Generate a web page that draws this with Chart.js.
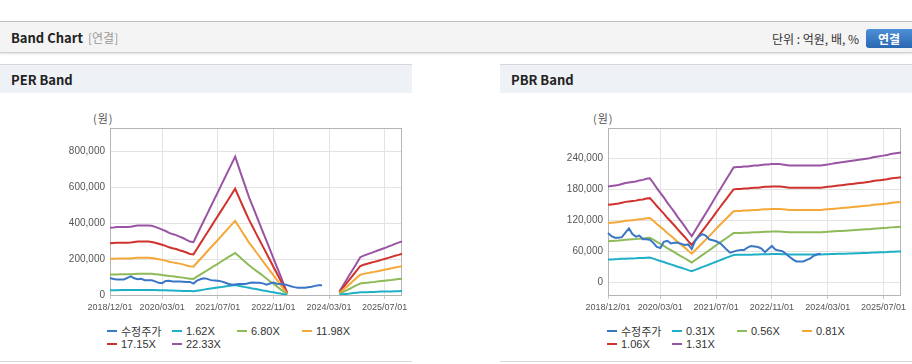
<!DOCTYPE html>
<html>
<head>
<meta charset="utf-8">
<script src="https://cdn.jsdelivr.net/npm/chart.js@4.4.1/dist/chart.umd.min.js"></script>
<style>
  html, body { margin:0; padding:0; background:#fff; }
  body { width:912px; height:364px; position:relative; overflow:hidden; font-family:'Liberation Sans','Noto Sans CJK KR',Arial,sans-serif; }
  .abs { position:absolute; }
  .topline { left:0; top:21px; width:912px; height:1px; background:#c2c2c2; }
  .hdr { left:0; top:22px; width:912px; height:30px; background:#f4f4f4; border-bottom:1px solid #cfcfcf; box-shadow:0 1px 2px rgba(0,0,0,0.12); }
  .hdr-title { left:11px; top:29px; font:bold 13px 'Noto Sans CJK KR',sans-serif; color:#222; line-height:17px; }
  .hdr-sub { left:88px; top:29px; font:12px 'Noto Sans CJK KR',sans-serif; color:#999; line-height:17px; }
  .unit { right:53px; top:30px; font:12px 'Noto Sans CJK KR',sans-serif; color:#333; line-height:17px; }
  .btn { left:866px; top:29px; width:46px; height:19px; border-radius:3px 0 0 3px; background:linear-gradient(#4d8fd6,#2a68b1); color:#fff; font:bold 12px 'Noto Sans CJK KR',sans-serif; text-align:center; line-height:19px; }
  .phdr { top:64px; width:412px; height:28px; background:#eef1f6; border-top:1px solid #d6d6d6; }
  .ptitle { top:71px; font:bold 13px 'Noto Sans CJK KR',sans-serif; color:#222; line-height:17px; }
  .pbottom { top:361px; width:412px; height:1px; background:#d8d8d8; }
  .unitlbl { top:110px; font:11px 'Noto Sans CJK KR',sans-serif; color:#555; letter-spacing:1px; }
  .legend { top:324px; display:grid; grid-template-columns:repeat(4,65px); grid-auto-rows:13px; }
  .li { display:flex; align-items:center; font:11px 'Liberation Sans','Noto Sans CJK KR',sans-serif; color:#333; white-space:nowrap; }
  .mk { width:10px; height:2px; margin-right:4px; }
  canvas { position:absolute; top:95px; }
</style>
</head>
<body>
<div class="abs topline"></div>
<div class="abs hdr"></div>
<div class="abs hdr-title">Band Chart</div>
<div class="abs hdr-sub">[연결]</div>
<div class="abs unit">단위 : 억원, 배, %</div>
<div class="abs btn">연결</div>

<div class="abs phdr" style="left:0"></div>
<div class="abs ptitle" style="left:11px">PER Band</div>
<div class="abs phdr" style="left:500px"></div>
<div class="abs ptitle" style="left:511px">PBR Band</div>
<div class="abs pbottom" style="left:0"></div>
<div class="abs pbottom" style="left:500px"></div>

<div class="abs unitlbl" style="left:93px">(원)</div>
<div class="abs unitlbl" style="left:593px">(원)</div>

<canvas id="per" width="412" height="225" style="left:0"></canvas>
<canvas id="pbr" width="412" height="225" style="left:500px"></canvas>
<div class="abs legend" id="perLegend" style="left:107px"></div>
<div class="abs legend" id="pbrLegend" style="left:607px"></div>

<script>
// ---------- categories (monthly) ----------
const DATES = [
'2018/12/01',
'2019/01/01','2019/02/01','2019/03/01','2019/04/01','2019/05/01','2019/06/01','2019/07/01','2019/08/01','2019/09/01','2019/10/01','2019/11/01','2019/12/01',
'2020/01/01','2020/02/01','2020/03/01','2020/04/01','2020/05/01','2020/06/01','2020/07/01','2020/08/01','2020/09/01','2020/10/01','2020/11/01','2020/12/01',
'2021/01/01','2021/02/01','2021/03/01','2021/04/01','2021/05/01','2021/06/01','2021/07/01','2021/08/01','2021/09/01','2021/10/01','2021/11/01','2021/12/01',
'2022/01/01','2022/02/01','2022/03/01','2022/04/01','2022/05/01','2022/06/01','2022/07/01','2022/08/01','2022/09/01','2022/10/01','2022/11/01','2022/12/01',
'2023/01/01','2023/02/01','2023/03/01','2023/04/01','2023/05/01','2023/06/01','2023/07/01','2023/08/01','2023/09/01','2023/10/01','2023/11/01','2023/12/01',
'2024/01/01','2024/02/01','2024/03/01','2024/04/01','2024/05/01','2024/06/01','2024/07/01','2024/08/01','2024/09/01','2024/10/01','2024/11/01','2024/12/01',
'2025/01/01','2025/02/01','2025/03/01','2025/04/01','2025/05/01','2025/06/01','2025/07/01','2025/08/01','2025/09/01','2025/10/01','2025/11/01','2025/12/01'
];
const X_TICKS = ['2018/12/01','2020/03/01','2021/07/01','2022/11/01','2024/03/01','2025/07/01'];
const PER_Y_TICKS = [0,200000,400000,600000,800000];
const PBR_Y_TICKS = [0,60000,120000,180000,240000];

// ---------- adjusted price (수정주가) ----------
const PRICE = [
95000,89000,86000,86000,87000,96000,104000,93000,88000,90000,83000,83000,
82000,76000,68000,66000,78000,80000,75000,76000,76000,74000,72000,73000,
64000,80000,88000,93000,90000,83000,81000,79000,76000,70000,63000,57000,
59000,61000,62000,62000,67000,70000,69000,68000,65000,58000,64000,70000,
63000,61000,60000,55000,49000,44000,40000,40000,40000,43000,46000,51000,54000,55000,
null,null,null,null,null,null,null,null,null,null,null,null,null,null,null,null,null,null,null,null,null,null,null
];

// ---------- PER band series ----------
const PER_162 = [
27000,27000,27000,28000,28000,28000,28000,28000,28000,28000,28000,28000,
28000,28000,27000,26000,26000,25000,25000,24000,24000,23000,22000,22000,
21000,24000,27000,30000,33000,36000,39000,42000,44000,47000,50000,53000,
56000,52000,48000,44000,40000,36000,33000,29000,25000,22000,18000,15000,
11000,8000,4000,1000,
null,null,null,null,null,null,null,null,null,null,null,null,null,null,
1000,4000,6000,8000,11000,13000,15000,16000,16000,17000,17000,18000,19000,19000,20000,20000,21000,21000,22000
];
const PER_680 = [
114000,115000,115000,116000,116000,116000,116000,117000,118000,118000,118000,118000,
118000,116000,114000,111000,109000,106000,104000,102000,99000,97000,94000,91000,
90000,102000,114000,126000,138000,150000,163000,174000,187000,199000,211000,223000,
235000,218000,200000,183000,166000,151000,136000,122000,107000,92000,77000,63000,
48000,33000,18000,4000,
null,null,null,null,null,null,null,null,null,null,null,null,null,null,
6000,16000,26000,35000,45000,55000,64000,67000,69000,71000,73000,76000,78000,80000,82000,84000,87000,89000,91000
];
const PER_1198 = [
202000,202000,203000,204000,204000,204000,204000,207000,208000,208000,208000,208000,
207000,204000,200000,196000,192000,186000,182000,179000,175000,171000,165000,160000,
158000,180000,201000,222000,244000,265000,286000,307000,329000,350000,372000,393000,
414000,384000,353000,323000,292000,267000,240000,215000,188000,163000,136000,111000,
84000,58000,32000,6000,
null,null,null,null,null,null,null,null,null,null,null,null,null,null,
11000,28000,45000,62000,79000,96000,113000,118000,122000,126000,129000,133000,137000,141000,145000,149000,153000,157000,160000
];
const PER_1715 = [
289000,290000,291000,292000,292000,292000,293000,296000,298000,298000,298000,298000,
296000,292000,286000,280000,274000,266000,261000,257000,250000,244000,237000,229000,
227000,257000,288000,318000,349000,379000,410000,440000,471000,501000,532000,562000,
593000,549000,505000,462000,419000,382000,344000,307000,270000,233000,195000,158000,
121000,84000,46000,9000,
null,null,null,null,null,null,null,null,null,null,null,null,null,null,
15000,40000,65000,89000,113000,137000,162000,169000,174000,180000,185000,190000,196000,201000,207000,213000,219000,224000,230000
];
const PER_2233 = [
376000,377000,379000,380000,380000,380000,381000,385000,388000,388000,388000,388000,
386000,380000,373000,365000,357000,347000,340000,334000,326000,318000,308000,298000,
295000,335000,375000,414000,454000,494000,534000,573000,613000,653000,693000,732000,
772000,715000,658000,602000,545000,497000,448000,400000,351000,303000,254000,206000,
157000,109000,60000,12000,
null,null,null,null,null,null,null,null,null,null,null,null,null,null,
20000,52000,84000,116000,147000,179000,211000,220000,227000,234000,241000,248000,255000,262000,270000,277000,285000,292000,299000
];

// ---------- PBR band series ----------
const PBR_031 = [
43800,44000,44200,44500,45000,45400,45700,45900,46100,46600,46800,47300,47600,
45400,43100,40900,38800,36400,34300,32200,29800,27700,25600,23200,21100,
23700,26300,28900,31500,34100,36700,39500,42100,44700,47300,49900,52500,
52800,52800,53000,53000,53200,53500,53500,53700,53900,53900,54200,54200,54200,
53900,53700,53500,53500,53500,53500,53500,53500,53500,53500,53500,53500,
53700,53900,54200,54400,54700,54900,55100,55400,55600,55800,56100,56300,56500,56800,57300,57500,57700,58000,58200,58700,58900,59200,59400
];
const PBR_056 = [
79100,79500,79900,80400,81200,82100,82500,82900,83400,84200,84600,85500,85900,
82100,77800,74000,70100,65800,62000,58100,53900,50000,46200,41900,38000,
42800,47500,52200,56900,61600,66300,71400,76100,80800,85500,90200,94900,
95300,95300,95800,95800,96200,96600,96600,97000,97500,97500,97900,97900,97900,
97500,97000,96600,96600,96600,96600,96600,96600,96600,96600,96600,96600,
97000,97500,97900,98300,98800,99200,99600,100000,100500,100900,101300,101700,102200,102600,103500,103900,104300,104700,105200,106000,106400,106900,107300
];
const PBR_081 = [
114400,115000,115600,116200,117500,118700,119300,120000,120600,121800,122400,123700,124300,
118700,112500,107000,101400,95200,89700,84100,77900,72300,66800,60600,55000,
61800,68600,75400,82200,89000,95800,103300,110100,116900,123700,130500,137300,
137900,137900,138500,138500,139100,139700,139700,140400,141000,141000,141600,141600,141600,
141000,140400,139700,139700,139700,139700,139700,139700,139700,139700,139700,139700,
140400,141000,141600,142200,142800,143400,144100,144700,145300,145900,146500,147200,147800,148400,149600,150200,150900,151500,152100,153300,154000,154600,155200
];
const PBR_106 = [
149700,150500,151300,152100,153700,155400,156200,157000,157800,159400,160200,161800,162600,
155400,147300,140000,132700,124600,117300,110100,102000,94700,87400,79300,72000,
80900,89800,98700,107600,116500,125400,135100,144000,152900,161800,170700,179600,
180500,180500,181300,181300,182100,182900,182900,183700,184500,184500,185300,185300,185300,
184500,183700,182900,182900,182900,182900,182900,182900,182900,182900,182900,182900,
183700,184500,185300,186100,186900,187700,188500,189400,190200,191000,191800,192600,193400,194200,195800,196600,197400,198300,199100,200700,201500,202300,203100
];
const PBR_131 = [
185000,186000,187000,188000,190000,192000,193000,194000,195000,197000,198000,200000,201000,
192000,182000,173000,164000,154000,145000,136000,126000,117000,108000,98000,89000,
100000,111000,122000,133000,144000,155000,167000,178000,189000,200000,211000,222000,
223000,223000,224000,224000,225000,226000,226000,227000,228000,228000,229000,229000,229000,
228000,227000,226000,226000,226000,226000,226000,226000,226000,226000,226000,226000,
227000,228000,229000,230000,231000,232000,233000,234000,235000,236000,237000,238000,239000,240000,242000,243000,244000,245000,246000,248000,249000,250000,251000
];

const PER_NAMES = ['수정주가','1.62X','6.80X','11.98X','17.15X','22.33X'];
const PBR_NAMES = ['수정주가','0.31X','0.56X','0.81X','1.06X','1.31X'];
const COLORS = ['#3a76c6','#1fb0c8','#8eba59','#f4a838','#d0322e','#9a54a4'];

Chart.defaults.font.family = "'Liberation Sans','Noto Sans CJK KR',Arial,sans-serif";

const frame = {
  id:'frame',
  beforeDatasetsDraw(chart){
    const a = chart.chartArea, c = chart.ctx;
    c.save(); c.strokeStyle = '#b5b5b5'; c.lineWidth = 1;
    c.strokeRect(a.left + 0.5, a.top + 0.5, a.right - a.left - 1, a.bottom - a.top);
    c.restore();
  }
};

function makeChart(id, legendId, names, seriesList, yMin, yMax, yTicks, yWidth, padRight){
  const datasets = seriesList.map((d, i) => ({
    label: names[i], data: d, borderColor: COLORS[i], backgroundColor: COLORS[i],
    borderWidth: 2, pointRadius: 0, pointHoverRadius: 0, tension: 0, spanGaps: false, fill: false
  }));
  const chart = new Chart(document.getElementById(id), {
    type: 'line',
    data: { labels: DATES, datasets },
    options: {
      responsive: false, animation: false, devicePixelRatio: 1,
      layout: { padding: { top: 33, right: padRight, left: 0, bottom: 0 } },
      plugins: { legend: { display: false }, tooltip: { enabled: false } },
      events: [],
      scales: {
        x: {
          type: 'category',
          grid: { color: '#e3e3e3', drawTicks: true, tickLength: 4, tickColor: '#c8c8c8' },
          border: { display: false },
          ticks: {
            autoSkip: false, maxRotation: 0, minRotation: 0, padding: 3,
            font: { size: 9 }, color: '#555',
            callback: function(v){ const l = this.getLabelForValue(v); return X_TICKS.includes(l) ? l : null; }
          },
          afterBuildTicks(ax){ ax.ticks = ax.ticks.filter(t => X_TICKS.includes(DATES[t.value])); },
          afterFit(ax){ ax.height = 25; }
        },
        y: {
          min: yMin, max: yMax,
          grid: { color: '#e3e3e3', drawTicks: false },
          border: { display: false },
          ticks: { padding: 5, font: { size: 10 }, color: '#555', callback: v => Number(v).toLocaleString('en-US') },
          afterBuildTicks(ax){ ax.ticks = yTicks.map(v => ({ value: v })); },
          afterFit(ax){ ax.width = yWidth; }
        }
      }
    },
    plugins: [frame]
  });
  const lg = document.getElementById(legendId);
  chart.data.datasets.forEach(ds => {
    const it = document.createElement('div'); it.className = 'li';
    const mk = document.createElement('span'); mk.className = 'mk'; mk.style.background = ds.borderColor;
    const tx = document.createElement('span'); tx.textContent = ds.label;
    it.appendChild(mk); it.appendChild(tx); lg.appendChild(it);
  });
  return chart;
}

makeChart('per', 'perLegend', PER_NAMES, [PRICE, PER_162, PER_680, PER_1198, PER_1715, PER_2233], 0, 932000, PER_Y_TICKS, 110, 10);
makeChart('pbr', 'pbrLegend', PBR_NAMES, [PRICE, PBR_031, PBR_056, PBR_081, PBR_106, PBR_131], -25000, 298500, PBR_Y_TICKS, 108, 11);
</script>
</body>
</html>
